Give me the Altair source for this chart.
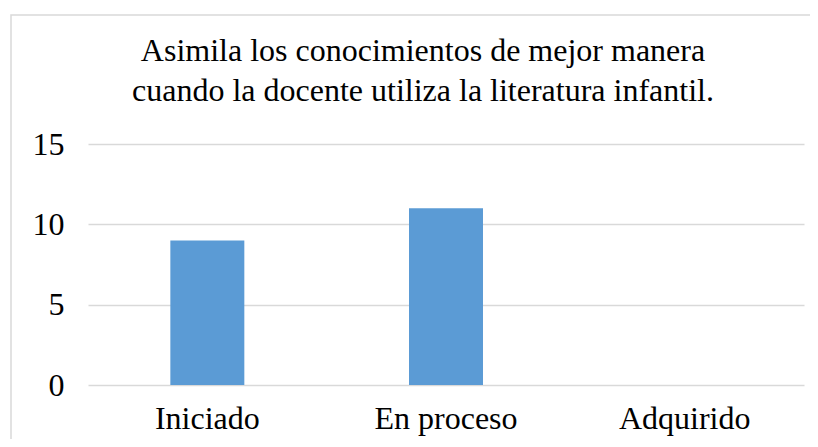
import altair as alt
import pandas as pd

categories = ["Iniciado", "En proceso", "Adquirido"]
values = [9, 11, 0]
y_ticks = [0, 5, 10, 15]
title_lines = ["Asimila los conocimientos de mejor manera",
               "cuando la docente utiliza la literatura infantil."]

df = pd.DataFrame({"cat": categories, "val": values})

FONT = "Liberation Serif"
W, H = 716, 241

bars = alt.Chart(df).mark_bar(color="#5B9BD5").encode(
    x=alt.X("cat:N", sort=categories, title=None,
            scale=alt.Scale(paddingInner=0.69, paddingOuter=0.345),
            axis=alt.Axis(labelAngle=0, labelFont=FONT, labelFontSize=32,
                          labelColor="#000000", labelPadding=18,
                          domain=False, ticks=False, grid=False)),
    y=alt.Y("val:Q", title=None,
            scale=alt.Scale(domain=[0, 15], nice=False),
            axis=alt.Axis(values=y_ticks, labelFont=FONT, labelFontSize=32,
                          labelColor="#000000", labelPadding=24,
                          domain=False, ticks=False, grid=True,
                          gridColor="#d9d9d9", gridWidth=1.5)),
)

border = alt.Chart(pd.DataFrame({"a": [0]})).mark_rect(
    fill=None, stroke="#d9d9d9", strokeWidth=1.5
).encode(
    x=alt.value(-77), x2=alt.value(760), y=alt.value(-129), y2=alt.value(330)
)

title_layers = []
for i, line in enumerate(title_lines):
    title_layers.append(
        alt.Chart(pd.DataFrame({"t": [line]})).mark_text(
            font=FONT, fontSize=32, color="#000000", align="center",
            baseline="alphabetic"
        ).encode(text="t:N", x=alt.value(335), y=alt.value(-83 + 40 * i))
    )

chart = alt.layer(border, bars, *title_layers).properties(
    width=W, height=H,
    padding={"left": 80, "top": 136, "right": 6, "bottom": 54},
    autosize=alt.AutoSizeParams(type="none"),
).configure_view(stroke=None)

chart.save("out.html", embed_options={"renderer": "svg", "actions": False})
